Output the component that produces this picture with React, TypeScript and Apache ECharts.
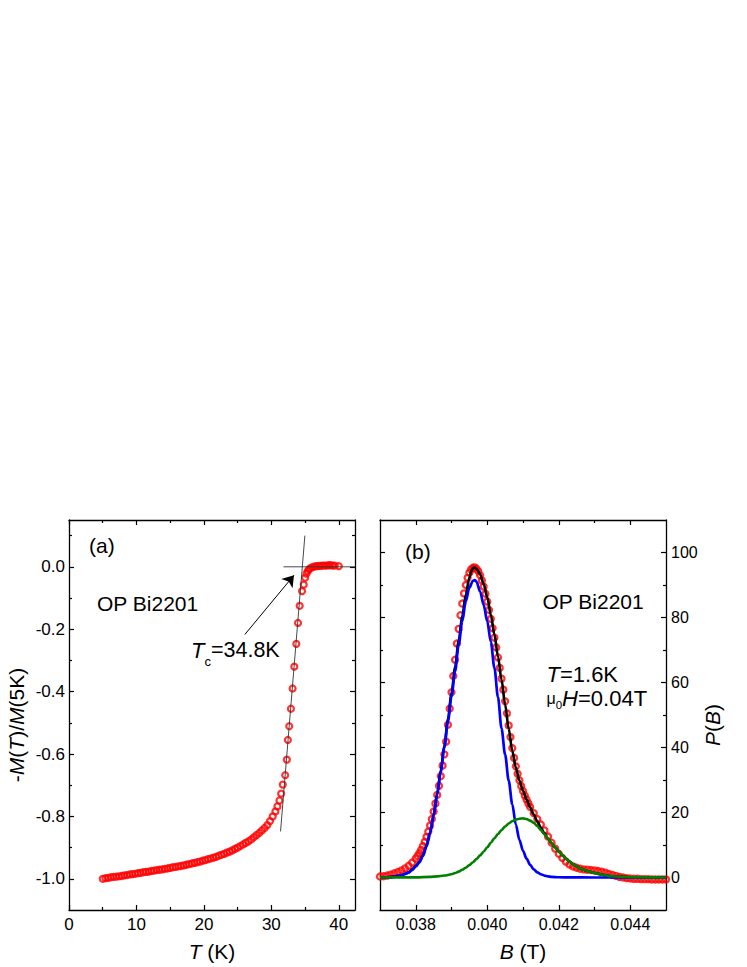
import React, { useEffect, useRef } from 'react';
import * as echarts from 'echarts';

const FONT = '"Liberation Sans", Arial, Helvetica, sans-serif';

// ---------- Panel (a): -M(T)/M(5K) vs T ----------
const T_A = [5.0, 5.4, 5.8, 6.2, 6.6, 7.0, 7.4, 7.8, 8.2, 8.6, 9.0, 9.4, 9.8, 10.2, 10.6, 11.0, 11.4, 11.8, 12.2, 12.6,
  13.0, 13.4, 13.8, 14.2, 14.6, 15.0, 15.4, 15.8, 16.2, 16.6, 17.0, 17.4, 17.8, 18.2, 18.6, 19.0, 19.4, 19.8, 20.2, 20.6,
  21.0, 21.4, 21.8, 22.2, 22.6, 23.0, 23.4, 23.8, 24.2, 24.6, 25.0, 25.4, 25.8, 26.2, 26.6, 27.0, 27.4, 27.8, 28.2, 28.6,
  29.0, 29.4, 29.8, 30.2, 30.6, 30.9, 31.2, 31.45, 31.7, 32.05, 32.3, 32.45, 32.65, 32.9, 33.15, 33.4, 33.7, 33.95, 34.2,
  34.55, 34.8, 35.0, 35.2, 35.4, 35.6, 35.8, 36.1, 36.4, 36.7, 37.0, 37.3, 37.6, 37.9, 38.2, 38.5, 38.8, 39.1, 39.4, 40.0];
const M_A = [-1.000, -0.998, -0.997, -0.995, -0.994, -0.993, -0.992, -0.991, -0.989, -0.988, -0.986, -0.985, -0.984,
  -0.982, -0.981, -0.979, -0.978, -0.977, -0.975, -0.974, -0.972, -0.971, -0.970, -0.968, -0.967, -0.965, -0.963, -0.962,
  -0.960, -0.959, -0.957, -0.955, -0.953, -0.951, -0.949, -0.947, -0.945, -0.942, -0.940, -0.937, -0.935, -0.932, -0.930,
  -0.926, -0.923, -0.920, -0.916, -0.913, -0.909, -0.904, -0.900, -0.895, -0.890, -0.885, -0.880, -0.874, -0.867, -0.860,
  -0.853, -0.845, -0.837, -0.828, -0.815, -0.800, -0.784, -0.768, -0.749, -0.727, -0.698, -0.668, -0.618, -0.555, -0.511,
  -0.455, -0.390, -0.320, -0.247, -0.180, -0.125, -0.078, -0.057, -0.035, -0.022, -0.014, -0.008, -0.004, -0.001, 0.001,
  0.002, 0.003, 0.003, 0.004, 0.004, 0.004, 0.005, 0.005, 0.004, 0.004, 0.002];

const HLINE_T = [31.8, 42.4];
const HLINE_M = [0, 0];
const SLOPE_T = [31.36, 34.97];
const SLOPE_M = [-0.848, 0.10];
const ARROW_T = [26.07, 33.35];
const ARROW_M = [-0.217, -0.027];

const A_X_MAJOR = [0, 10, 20, 30, 40];
const A_X_MINOR = [5, 15, 25, 35];
const A_Y_MAJOR = [-1.0, -0.8, -0.6, -0.4, -0.2, 0.0];
const A_Y_MINOR = [-0.9, -0.7, -0.5, -0.3, -0.1, 0.1];

// ---------- Panel (b): P(B) vs B ----------
const RED_B = [0.0370, 0.0371, 0.0372, 0.0373, 0.0374, 0.0375, 0.0376, 0.0377, 0.0378, 0.0379, 0.0380, 0.03805, 0.0381,
  0.03815, 0.0382, 0.03825, 0.0383, 0.03835, 0.0384, 0.03845, 0.0385, 0.03855, 0.0386, 0.03865, 0.0387, 0.03875, 0.0388,
  0.03885, 0.0389, 0.03895, 0.0390, 0.03905, 0.0391, 0.03915, 0.0392, 0.03925, 0.0393, 0.03935, 0.0394, 0.03945, 0.0395,
  0.03955, 0.0396, 0.03965, 0.0397, 0.03975, 0.0398, 0.03985, 0.0399, 0.03995, 0.0400, 0.04005, 0.0401, 0.04015, 0.0402,
  0.04025, 0.0403, 0.04035, 0.0404, 0.04045, 0.0405, 0.04055, 0.0406, 0.04065, 0.0407, 0.04075, 0.0408, 0.04085, 0.0409,
  0.04095, 0.0410, 0.04105, 0.0411, 0.04115, 0.0412, 0.0413, 0.0414, 0.0415, 0.0416, 0.0417, 0.0418, 0.0419, 0.0420,
  0.0421, 0.0422, 0.0423, 0.0424, 0.0425, 0.0426, 0.0427, 0.0428, 0.0429, 0.0430, 0.0431, 0.0432, 0.0433, 0.0434, 0.0435,
  0.0436, 0.0437, 0.0438, 0.0439, 0.0440, 0.0441, 0.0442, 0.0443, 0.0444, 0.0445, 0.0446, 0.0447, 0.0448, 0.0449, 0.0450];
const RED_P = [0.3, 0.4, 0.6, 0.9, 1.3, 1.7, 2.2, 2.8, 3.6, 4.6, 5.8, 6.6, 7.5,
  8.5, 9.7, 11.0, 12.5, 14.1, 16.0, 18.0, 20.3, 22.8, 25.4, 28.2, 31.2, 34.4, 37.9,
  41.8, 47.0, 52.0, 57.0, 62.0, 67.0, 72.0, 76.5, 80.7, 84.3, 87.4, 90.0, 92.2, 93.8,
  94.8, 95.3, 95.4, 95.0, 94.2, 93.0, 91.4, 89.5, 87.3, 84.9, 82.3, 79.6, 76.7, 73.8,
  70.8, 67.7, 64.5, 61.2, 57.8, 54.2, 50.5, 46.8, 43.2, 39.8, 36.8, 34.2, 31.9, 29.9,
  28.1, 26.6, 25.2, 24.0, 22.8, 21.7, 19.8, 18.0, 16.3, 14.5, 12.6, 10.7, 8.9, 7.3,
  6.0, 4.9, 4.0, 3.4, 3.0, 2.7, 2.5, 2.4, 2.3, 2.2, 2.0, 1.8, 1.5, 1.1, 0.8,
  0.5, 0.2, 0.0, -0.2, -0.3, -0.4, -0.4, -0.5, -0.5, -0.5, -0.6, -0.6, -0.6, -0.6, -0.6];

const FIT_B = [0.0370, 0.0372, 0.0374, 0.0376, 0.0377, 0.0378, 0.0379, 0.0380, 0.0381, 0.0382, 0.0383, 0.0384, 0.0385,
  0.0386, 0.0387, 0.0388, 0.0389, 0.0390, 0.0391, 0.0392, 0.0393, 0.0394, 0.0395, 0.03955, 0.0396, 0.03965, 0.0397, 0.0398,
  0.0399, 0.0400, 0.0401, 0.0402, 0.0403, 0.0404, 0.0405, 0.0406, 0.0407, 0.0408, 0.0409, 0.0410, 0.0411, 0.0412, 0.0413,
  0.0414, 0.0415, 0.0416, 0.0417, 0.0418, 0.0419, 0.0420, 0.0421, 0.0422, 0.0423, 0.0424, 0.0425, 0.0426, 0.0427, 0.0428,
  0.0430, 0.0432, 0.0434, 0.0436, 0.0438, 0.0440, 0.0445, 0.0450];
const FIT_P = [0.0, 0.1, 0.3, 0.7, 1.1, 1.6, 2.5, 3.6, 4.8, 6.8, 9.8, 13.9, 19.3,
  25.9, 33.0, 40.6, 48.7, 56.7, 64.7, 72.8, 80.5, 87.0, 92.3, 94.2, 95.2, 95.4, 95.0, 93.3,
  90.3, 86.2, 80.8, 74.8, 68.0, 60.8, 53.2, 45.8, 39.0, 33.8, 29.8, 26.7, 24.0, 21.6, 19.4,
  17.3, 15.3, 13.6, 12.0, 10.6, 9.2, 8.0, 6.9, 5.8, 4.9, 4.1, 3.4, 2.8, 2.4, 2.0,
  1.4, 0.9, 0.5, 0.3, 0.2, 0.1, 0.05, 0.0];

const BLUE_B = [0.0370, 0.0372, 0.0374, 0.0375, 0.0376, 0.0377, 0.0378, 0.0379, 0.0380, 0.0381, 0.0382, 0.0383, 0.0384,
  0.0385, 0.0386, 0.0387, 0.0388, 0.0389, 0.0390, 0.0391, 0.0392, 0.0393, 0.0394, 0.0395, 0.0396, 0.03965, 0.0397, 0.0398,
  0.0399, 0.0400, 0.0401, 0.0402, 0.0403, 0.0404, 0.0405, 0.0406, 0.0407, 0.0408, 0.0409, 0.0410, 0.0411, 0.0412, 0.0413,
  0.0414, 0.0415, 0.0416, 0.0417, 0.0418, 0.0420, 0.0423, 0.0430, 0.0450];
const BLUE_P = [0.0, 0.05, 0.2, 0.4, 0.7, 1.1, 1.5, 2.3, 3.4, 4.6, 6.6, 9.5, 13.6,
  19.0, 25.5, 32.5, 40.0, 48.0, 55.7, 63.5, 71.5, 78.8, 85.0, 89.2, 91.3, 91.5, 91.0, 88.0,
  83.8, 78.8, 72.5, 64.5, 55.5, 45.8, 37.8, 29.8, 22.5, 16.3, 11.6, 8.2, 5.8, 3.9, 2.5,
  1.6, 1.0, 0.6, 0.35, 0.2, 0.08, 0.02, 0.0, 0.0];

const GREEN_B = [0.0370, 0.0380, 0.0384, 0.0386, 0.0388, 0.0390, 0.0391, 0.0392, 0.0393, 0.0394, 0.0395, 0.0396, 0.0397,
  0.0398, 0.0399, 0.0400, 0.0401, 0.0402, 0.0403, 0.0404, 0.0405, 0.0406, 0.0407, 0.0408, 0.0409, 0.0410, 0.0411, 0.0412,
  0.0413, 0.0414, 0.0415, 0.0416, 0.0417, 0.0418, 0.0419, 0.0420, 0.0421, 0.0422, 0.0423, 0.0424, 0.0425, 0.0426, 0.0427,
  0.0428, 0.0430, 0.0432, 0.0434, 0.0436, 0.0438, 0.0440, 0.0445, 0.0450];
const GREEN_P = [0.0, 0.05, 0.2, 0.35, 0.6, 1.0, 1.4, 1.8, 2.4, 3.0, 3.8, 4.7, 5.7,
  6.8, 8.0, 9.3, 10.7, 12.1, 13.4, 14.6, 15.7, 16.6, 17.3, 17.8, 18.1, 18.2, 18.0, 17.5,
  16.8, 15.8, 14.6, 13.3, 12.0, 10.6, 9.2, 8.0, 6.9, 5.8, 4.9, 4.1, 3.4, 2.8, 2.4,
  2.0, 1.4, 0.9, 0.5, 0.3, 0.2, 0.1, 0.05, 0.0];

const B_X_MAJOR = [0.038, 0.040, 0.042, 0.044];
const B_X_MINOR = [0.039, 0.041, 0.043];
const B_Y_MAJOR = [0, 20, 40, 60, 80, 100];
const B_Y_MINOR = [10, 30, 50, 70, 90];

const zip = (xs: number[], ys: number[]) => xs.map((x, i) => [x, ys[i]]);

type LabelCfg = { values: number[]; formatter: (v: number) => string; fontSize: number; margin: number };

function axis(
  gridIndex: number, position: string, min: number, max: number,
  ticks: number[], len: number, showLine: boolean, label?: LabelCfg, extra?: any,
) {
  return {
    type: 'value', gridIndex, position, min, max, offset: 0,
    axisLine: { show: showLine, onZero: false, lineStyle: { color: '#000', width: 1.3 } },
    axisTick: { show: true, inside: true, length: len, customValues: ticks, lineStyle: { color: '#000', width: 1.2 } },
    axisLabel: label
      ? { show: true, customValues: label.values, formatter: label.formatter, fontSize: label.fontSize,
          fontFamily: FONT, color: '#000', margin: label.margin }
      : { show: false },
    splitLine: { show: false },
    minorTick: { show: false },
    ...(extra || {}),
  };
}

const nameStyle = (padding: number[]) => ({
  fontSize: 21, fontFamily: FONT, color: '#000', padding,
  rich: { i: { fontStyle: 'italic', fontSize: 21, fontFamily: FONT, color: '#000' } },
});

const MAJ = 5;
const MIN = 3;

function txt(x: number, y: number, text: string, rich?: any, fontSize = 21) {
  return {
    type: 'text', x, y, silent: true,
    style: {
      text, fontSize, fontFamily: FONT, fill: '#000',
      align: 'left', verticalAlign: 'middle', textAlign: 'left', textVerticalAlign: 'middle',
      rich,
    },
  };
}

export default function App() {
  const ref = useRef<HTMLDivElement>(null);
  useEffect(() => {
    if (!ref.current) return;
    const chart = echarts.init(ref.current, undefined, { renderer: 'svg' });

    const aXMin = 0, aXMax = 42.4, aYMin = -1.1, aYMax = 0.15;
    const bXMin = 0.037, bXMax = 0.045, bYMin = -10, bYMax = 110;

    const option: any = {
      animation: false,
      backgroundColor: '#fff',
      grid: [
        { left: 69, top: 520, width: 286, height: 390, containLabel: false },
        { left: 380, top: 520, width: 286, height: 390, containLabel: false },
      ],
      xAxis: [
        axis(0, 'bottom', aXMin, aXMax, A_X_MAJOR, MAJ, true,
          { values: A_X_MAJOR, formatter: (v) => String(v), fontSize: 17, margin: 6 },
          { name: '{i|T} (K)', nameLocation: 'middle', nameGap: 31, nameTextStyle: nameStyle([0, 0, 0, 0]) }),
        axis(0, 'bottom', aXMin, aXMax, A_X_MINOR, MIN, false),
        axis(0, 'top', aXMin, aXMax, A_X_MAJOR, MAJ, true),
        axis(0, 'top', aXMin, aXMax, A_X_MINOR, MIN, false),
        axis(1, 'bottom', bXMin, bXMax, B_X_MAJOR, MAJ, true,
          { values: B_X_MAJOR, formatter: (v) => v.toFixed(3), fontSize: 16, margin: 6 },
          { name: '{i|B} (T)', nameLocation: 'middle', nameGap: 31, nameTextStyle: nameStyle([0, 0, 0, 0]) }),
        axis(1, 'bottom', bXMin, bXMax, B_X_MINOR, MIN, false),
        axis(1, 'top', bXMin, bXMax, B_X_MAJOR, MAJ, true),
        axis(1, 'top', bXMin, bXMax, B_X_MINOR, MIN, false),
      ],
      yAxis: [
        axis(0, 'left', aYMin, aYMax, A_Y_MAJOR, MAJ, true,
          { values: A_Y_MAJOR, formatter: (v) => v.toFixed(1), fontSize: 17, margin: 4 },
          { name: '-{i|M}({i|T})/{i|M}(5K)', nameLocation: 'middle', nameRotate: 90, nameGap: 42,
            nameTextStyle: nameStyle([0, 20, 0, 0]) }),
        axis(0, 'left', aYMin, aYMax, A_Y_MINOR, MIN, false),
        axis(0, 'right', aYMin, aYMax, A_Y_MAJOR, MAJ, true),
        axis(0, 'right', aYMin, aYMax, A_Y_MINOR, MIN, false),
        axis(1, 'right', bYMin, bYMax, B_Y_MAJOR, MAJ, true,
          { values: B_Y_MAJOR, formatter: (v) => String(v), fontSize: 16, margin: 5 },
          { name: '{i|P}({i|B})', nameLocation: 'middle', nameRotate: 90, nameGap: 35,
            nameTextStyle: nameStyle([0, 20, 0, 0]) }),
        axis(1, 'right', bYMin, bYMax, B_Y_MINOR, MIN, false),
        axis(1, 'left', bYMin, bYMax, B_Y_MAJOR, MAJ, true),
        axis(1, 'left', bYMin, bYMax, B_Y_MINOR, MIN, false),
      ],
      series: [
        {
          type: 'line', xAxisIndex: 0, yAxisIndex: 0, data: zip(HLINE_T, HLINE_M), symbol: 'none',
          lineStyle: { color: '#333', width: 0.9 }, silent: true,
          markLine: {
            silent: true, symbol: ['none', 'arrow'], symbolSize: 11,
            lineStyle: { color: '#000', width: 1, type: 'solid' }, label: { show: false },
            emphasis: { disabled: true },
            data: [[{ coord: [ARROW_T[0], ARROW_M[0]] }, { coord: [ARROW_T[1], ARROW_M[1]] }]],
          },
        },
        {
          type: 'line', xAxisIndex: 0, yAxisIndex: 0, data: zip(SLOPE_T, SLOPE_M), symbol: 'none',
          lineStyle: { color: '#333', width: 0.9 }, silent: true,
        },
        {
          type: 'scatter', xAxisIndex: 0, yAxisIndex: 0, data: zip(T_A, M_A), symbol: 'circle', symbolSize: 6,
          itemStyle: { color: 'rgba(255,255,255,0)', borderColor: '#ff0000', borderWidth: 2.2 }, silent: true,
        },
        {
          type: 'scatter', xAxisIndex: 4, yAxisIndex: 4, data: zip(RED_B, RED_P), symbol: 'circle', symbolSize: 6,
          itemStyle: { color: 'rgba(255,255,255,0)', borderColor: '#ff0000', borderWidth: 2.3 }, silent: true,
        },
        {
          type: 'line', xAxisIndex: 4, yAxisIndex: 4, data: zip(FIT_B, FIT_P), symbol: 'none', smooth: 0.3,
          smoothMonotone: 'x', lineStyle: { color: '#000', width: 2.6 }, silent: true,
        },
        {
          type: 'line', xAxisIndex: 4, yAxisIndex: 4, data: zip(BLUE_B, BLUE_P), symbol: 'none', smooth: 0.3,
          smoothMonotone: 'x', lineStyle: { color: '#0000ff', width: 2.7 }, silent: true,
        },
        {
          type: 'line', xAxisIndex: 4, yAxisIndex: 4, data: zip(GREEN_B, GREEN_P), symbol: 'none', smooth: 0.3,
          smoothMonotone: 'x', lineStyle: { color: '#008000', width: 2.6 }, silent: true,
        },
      ],
      graphic: [
        txt(89, 545, '(a)'),
        txt(97, 603, 'OP Bi2201'),
        txt(191, 650, '{ti|T}{sub|c}{n|=34.8K}', {
          ti: { fontStyle: 'italic', fontSize: 22, lineHeight: 36, fontFamily: FONT, fill: '#000' },
          sub: { fontSize: 13, lineHeight: 12, verticalAlign: 'bottom', fontFamily: FONT, fill: '#000' },
          n: { fontSize: 21.5, lineHeight: 36, fontFamily: FONT, fill: '#000' },
        }),
        txt(405, 551, '(b)'),
        txt(542.5, 601, 'OP Bi2201'),
        txt(546.5, 674, '{ti|T}{n|=1.6K}', {
          ti: { fontStyle: 'italic', fontSize: 22, fontFamily: FONT, fill: '#000' },
          n: { fontSize: 22, fontFamily: FONT, fill: '#000' },
        }),
        txt(546.5, 698, '{mu|μ}{sub|0}{ti|H}{n|=0.04T}', {
          mu: { fontSize: 16, lineHeight: 26, fontFamily: FONT, fill: '#000' },
          sub: { fontSize: 11.5, lineHeight: 12, verticalAlign: 'bottom', fontFamily: FONT, fill: '#000' },
          ti: { fontStyle: 'italic', fontSize: 22, lineHeight: 26, fontFamily: FONT, fill: '#000' },
          n: { fontSize: 22, lineHeight: 26, fontFamily: FONT, fill: '#000' },
        }),
      ],
    };

    chart.setOption(option);
    return () => chart.dispose();
  }, []);

  return (
    <div
      ref={ref}
      style={{ position: 'absolute', left: 0, top: 0, width: 747, height: 967, background: '#fff' }}
    />
  );
}
